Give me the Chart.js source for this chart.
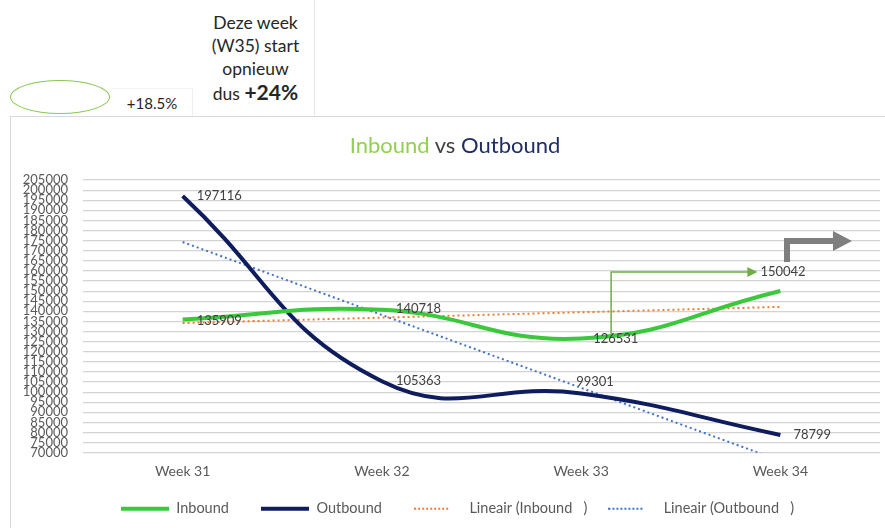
<!DOCTYPE html>
<html>
<head>
<meta charset="utf-8">
<script src="https://cdn.jsdelivr.net/npm/chart.js@4.4.1/dist/chart.umd.min.js"></script>
<style>
  html, body { margin: 0; padding: 0; background: #fff; }
  body { width: 885px; height: 528px; position: relative; overflow: hidden; font-family: Lato, 'Liberation Sans', sans-serif; color: #262626; }
  #ellipse { position: absolute; left: 10px; top: 80px; width: 98px; height: 32px; border: 1.5px solid #8cc858; border-radius: 50%; }
  #pct { position: absolute; left: 112px; top: 88px; width: 80px; height: 28px; border-right: 1px solid #eeeeee; border-top: 1px solid #f3f3f3; font-size: 15px; line-height: 28px; text-align: center; }
  #note { position: absolute; left: 197px; top: 0; width: 118px; height: 115px; border-right: 1px solid #e6e6e6; text-align: center; font-size: 17.5px; line-height: 23px; padding-top: 11px; box-sizing: border-box; }
  #note b { font-size: 21px; }
  #box { position: absolute; left: 10px; top: 116px; width: 875px; height: 412px; border-top: 1px solid #d9d9d9; border-left: 1px solid #d9d9d9; }
  #chart { position: absolute; left: 0; top: 0; }
  #title { position: absolute; left: 0; top: 131px; width: 910px; text-align: center; font-size: 22px; color: #404040; }
  #overlay { position: absolute; left: 0; top: 0; pointer-events: none; }
</style>
</head>
<body>
<div id="ellipse"></div>
<div id="pct">+18.5%</div>
<div id="note">Deze week<br>(W35) start<br>opnieuw<br>dus <b>+24%</b></div>
<div id="box"><canvas id="chart" width="874" height="411"></canvas></div>
<div id="title"><span style="color:#92d050">Inbound</span> vs <span style="color:#1f2d62">Outbound</span></div>
<svg id="overlay" width="885" height="528">
  <polyline points="787,262 787,241 835,241" fill="none" stroke="#7f7f7f" stroke-width="6"/>
  <polygon points="833,231 852,241 833,251" fill="#7f7f7f"/>
</svg>
<script>
const weeks = ['Week 31', 'Week 32', 'Week 33', 'Week 34'];
const inbound = [135909, 140718, 126531, 150042];
const outbound = [197116, 105363, 99301, 78799];
// trend lines, endpoints
const inboundTrend = [134200, null, null, 142200];
const outboundTrend = [174300, null, null, 66000];
const yMin = 70000;
const yMax = 205000;
const yStep = 5000;

// label nudges [dx, dy] relative to the point
const inboundNudge = [[14, 1], [14, -1], [12, 0], [-20, -19]];
const outboundNudge = [[14, 0], [14, 0], [-5, -12], [13, 0]];
// extra spaces after each legend entry, to get Excel's spacing
const legendPad = [6, 6, 3, 0];

// legend swatches, drawn as little images so the dots show
function swatch(color, width, dash) {
    const c = document.createElement('canvas');
    c.width = 48;
    c.height = 6;
    const g = c.getContext('2d');
    g.strokeStyle = color;
    g.lineWidth = width;
    g.setLineDash(dash || []);
    g.beginPath();
    g.moveTo(0, 3);
    g.lineTo(dash ? 34 : 48, 3);
    g.stroke();
    return c;
}

const labelPlugin = {
    id: 'pointLabels',
    afterLayout(chart) {
        // Excel sits the legend a bit right of centre
        const lg = chart.legend;
        lg.left += 12;
        lg.right += 12;
        lg.top += 2;
        lg.bottom += 2;
    },
    afterDatasetsDraw(chart) {
        const ctx = chart.ctx;
        ctx.save();
        ctx.font = '13px Lato, sans-serif';
        ctx.fillStyle = '#404040';
        ctx.textBaseline = 'middle';
        ctx.textAlign = 'left';
        const draw = (idx, values, nudge) => {
            chart.getDatasetMeta(idx).data.forEach((pt, i) => {
                ctx.fillText(String(values[i]), pt.x + nudge[i][0], pt.y + nudge[i][1]);
            });
        };
        draw(0, inbound, inboundNudge);
        draw(1, outbound, outboundNudge);

        // green connector from week 33 up to the week 34 label
        const pts = chart.getDatasetMeta(0).data;
        const x0 = pts[2].x + 30;
        const yTop = pts[3].y + inboundNudge[3][1];
        const xEnd = pts[3].x + inboundNudge[3][0] - 3;
        ctx.strokeStyle = '#70ad47';
        ctx.fillStyle = '#70ad47';
        ctx.lineWidth = 1.5;
        ctx.beginPath();
        ctx.moveTo(x0, pts[2].y - 4);
        ctx.lineTo(x0, yTop);
        ctx.lineTo(xEnd - 8, yTop);
        ctx.stroke();
        ctx.beginPath();
        ctx.moveTo(xEnd, yTop);
        ctx.lineTo(xEnd - 10, yTop - 5);
        ctx.lineTo(xEnd - 10, yTop + 5);
        ctx.closePath();
        ctx.fill();
        ctx.restore();
    }
};

const chart = new Chart(document.getElementById('chart').getContext('2d'), {
    type: 'line',
    data: {
        labels: weeks,
        datasets: [
            {
                label: 'Inbound',
                data: inbound,
                borderColor: '#3cc83c',
                backgroundColor: '#3cc83c',
                borderWidth: 4,
                pointRadius: 0,
                tension: 0.45,
                pointStyle: swatch('#3cc83c', 4)
            },
            {
                label: 'Outbound',
                data: outbound,
                borderColor: '#0f1c5e',
                backgroundColor: '#0f1c5e',
                borderWidth: 4,
                pointRadius: 0,
                tension: 0.45,
                pointStyle: swatch('#0f1c5e', 4)
            },
            {
                label: 'Lineair (Inbound   )',
                data: inboundTrend,
                borderColor: '#ed7d31',
                borderWidth: 2,
                borderDash: [2, 3],
                pointRadius: 0,
                spanGaps: true,
                pointStyle: swatch('#ed7d31', 2, [2, 2])
            },
            {
                label: 'Lineair (Outbound   )',
                data: outboundTrend,
                borderColor: '#4472c4',
                borderWidth: 2,
                borderDash: [2, 3],
                pointRadius: 0,
                spanGaps: true,
                pointStyle: swatch('#4472c4', 2, [2, 2])
            }
        ]
    },
    options: {
        responsive: false,
        animation: false,
        layout: { padding: { top: 63, right: 5, bottom: 4, left: 0 } },
        plugins: {
            title: { display: false },
            tooltip: { enabled: false },
            legend: {
                position: 'bottom',
                labels: {
                    usePointStyle: true,
                    pointStyleWidth: 48,
                    boxHeight: 14,
                    padding: 10,
                    color: '#595959',
                    font: { family: 'Lato, sans-serif', size: 14.5 },
                    generateLabels(chart) {
                        const items = Chart.defaults.plugins.legend.labels.generateLabels(chart);
                        items.forEach((it, i) => { it.text = it.text + ' '.repeat(legendPad[i]); });
                        return items;
                    }
                }
            }
        },
        scales: {
            x: {
                offset: true,
                grid: { display: false, drawTicks: false },
                border: { display: false },
                ticks: {
                    color: '#595959',
                    padding: 10,
                    font: { family: 'Lato, sans-serif', size: 14 }
                }
            },
            y: {
                min: yMin,
                max: yMax,
                afterFit(scale) { scale.width = 72; },
                grid: { color: '#d4d4d4', lineWidth: 1.2, drawTicks: false },
                border: { display: false },
                ticks: {
                    stepSize: yStep,
                    autoSkip: false,
                    maxTicksLimit: 100,
                    padding: 15,
                    color: '#595959',
                    font: { family: 'Lato, sans-serif', size: 13 },
                    callback: v => String(v)
                }
            }
        }
    },
    plugins: [labelPlugin]
});
</script>
</body>
</html>
